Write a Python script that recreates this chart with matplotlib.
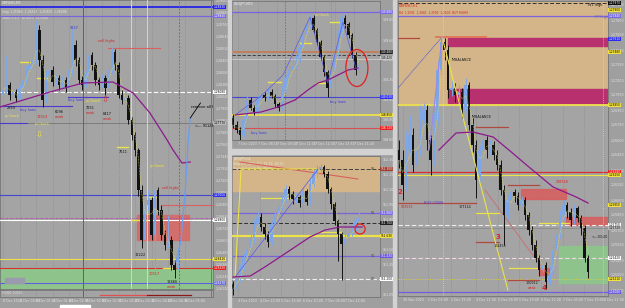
import numpy as np
import pandas as pd
import matplotlib
matplotlib.use("Agg")
import matplotlib.pyplot as plt
import matplotlib.transforms as mtransforms
from matplotlib.patches import Rectangle, Ellipse
from matplotlib.ticker import MultipleLocator, FuncFormatter

##########
# Daten
##########

# linkes Panel GBPUSD M5, Preise in Punkten (1 Punkt = 0.0001)
L_OPEN0 = 12805
L_CLOSE = [12810, 12815, 12805, 12808, 12802, 12812, 12820, 12830, 12835, 12840,
           12870, 12840, 12800, 12825, 12830, 12818, 12822, 12815, 12820, 12812,
           12830, 12855, 12840, 12820, 12815, 12825, 12845, 12835, 12820, 12815,
           12822, 12812, 12830, 12848, 12835, 12805, 12800, 12802, 12780, 12765,
           12750, 12710, 12660, 12695, 12700, 12665, 12710, 12690, 12665, 12655,
           12660, 12635, 12630, 12645]
L_HIGH = [12814, 12845, 12818, 12812, 12811, 12816, 12825, 12834, 12840, 12850,
          12880, 12875, 12845, 12830, 12835, 12834, 12826, 12825, 12824, 12823,
          12834, 12872, 12860, 12843, 12824, 12830, 12852, 12848, 12838, 12823,
          12826, 12825, 12834, 12853, 12851, 12838, 12810, 12806, 12805, 12783,
          12768, 12752, 12715, 12700, 12710, 12703, 12715, 12713, 12695, 12670,
          12685, 12664, 12640, 12650]
L_LOW = [12800, 12807, 12800, 12802, 12798, 12800, 12808, 12816, 12825, 12832,
         12836, 12834, 12793, 12797, 12820, 12814, 12815, 12810, 12812, 12808,
         12808, 12825, 12834, 12816, 12810, 12812, 12822, 12830, 12815, 12810,
         12812, 12805, 12808, 12826, 12830, 12802, 12796, 12797, 12776, 12760,
         12744, 12704, 12652, 12654, 12690, 12660, 12630, 12685, 12660, 12650,
         12652, 12630, 12622, 12638]
L_MA_X = [-0.9, 14.2, 24.2, 33.3, 39.4, 44.5, 49.7, 51.5, 54.2, 56.7]
L_MA_Y = [12793, 12808, 12817, 12818, 12807, 12787, 12760, 12750, 12737, 12738]
L_BLUE_X = [52.4, 53.9, 55.2, 56.1, 56.7]
L_BLUE_Y = [12638, 12660, 12710, 12760, 12782]
L_LEVELS = [12893, 12884, 12808, 12777, 12705, 12682, 12680, 12641, 12632, 12617]
L_VLINES = [24.2, 38.8, 43.6, 53.3, 63.0]
L_SEG_RED = [(31.8, 47.6, 12852), (48.2, 63.6, 12695)]
L_SEG_PUR = [(-1, 20.9, 12794), (19.7, 31.8, 12803)]
L_SEG_YEL = [(5.2, 9.1, 12838), (10.3, 13.3, 12822), (34.5, 37.9, 12753),
             (39.1, 43.6, 12680), (43.6, 47.0, 12703), (48.5, 52.1, 12632)]
L_REDZONE = (40.6, 56.4, 12660, 12685)
L_GREENZONE = (12611, 12632)
L_NOTES_BLACK = [(1.2, 12792, "2969"), (15.8, 12788, "6096"), (25.2, 12792, "7251"),
                 (30.3, 12786, "6417"), (35.2, 12748, "7511"), (40.0, 12645, "12222"),
                 (49.4, 12618, "13466")]
L_NOTES_RED = [(10.3, 12783, "12513"), (15.8, 12783, "weak"), (25.2, 12787, "weak"),
               (30.3, 12781, "weak"), (28.8, 12859, "sell highs"), (48.2, 12712, "sell highs"),
               (44.0, 12626, "10517"), (49.7, 12613, "weak")]
L_NOTES_YEL = [(0.6, 12784, "pullback"), (9.7, 12776, "pullback"),
               (25.0, 12799, "pullback"), (44.5, 12734, "pullback")]
L_NOTES_BLUE = [(5.2, 12790, "buy lows"), (19.7, 12800, "buy lows"), (20.3, 12872, "9257")]
L_TIME_POS = [0, 5, 10, 15, 20, 25, 30, 35, 40, 45, 50, 55]
L_TIME_LAB = ["8 Dec 2023", "8 Dec 00:50", "8 Dec 01:15", "8 Dec 01:40", "8 Dec 02:05",
              "8 Dec 02:30", "8 Dec 02:55", "8 Dec 03:20", "8 Dec 03:45", "8 Dec 04:10",
              "8 Dec 04:35", "8 Dec 05:00"]

# Mitte oben USDJPY M15
M1_OPEN0 = 148.82
M1_CLOSE = [148.75, 148.70, 148.65, 148.80, 149.00, 148.92, 148.88, 149.00, 149.05, 149.02,
            149.08, 149.04, 148.96, 148.92, 149.10, 149.22, 149.30, 149.34, 149.40, 149.52,
            149.65, 149.75, 149.82, 149.70, 149.58, 149.43, 149.28, 149.12, 149.28, 149.45,
            149.65, 149.82, 149.76, 149.65, 149.45, 149.30, 149.35]
M1_HIGH = [148.86, 148.79, 148.73, 148.84, 149.05, 149.03, 148.95, 149.04, 149.10, 149.08,
           149.12, 149.11, 149.06, 148.98, 149.14, 149.26, 149.34, 149.42, 149.45, 149.56,
           149.68, 149.80, 149.86, 149.85, 149.72, 149.60, 149.45, 149.30, 149.32, 149.50,
           149.70, 149.87, 149.85, 149.78, 149.67, 149.48, 149.40]
M1_LOW = [148.72, 148.67, 148.60, 148.63, 148.78, 148.90, 148.85, 148.86, 148.98, 148.99,
          149.00, 149.02, 148.93, 148.89, 148.90, 149.08, 149.20, 149.28, 149.32, 149.38,
          149.50, 149.62, 149.72, 149.67, 149.55, 149.40, 149.24, 149.03, 149.10, 149.26,
          149.43, 149.63, 149.72, 149.62, 149.42, 149.25, 149.28]
M1_MA_X = [0.6, 8.0, 12.9, 17.7, 21.4, 24.3, 27.1, 30.0, 32.9, 35.7]
M1_MA_Y = [148.85, 148.88, 148.93, 149.00, 149.10, 149.17, 149.20, 149.25, 149.30, 149.32]
M1_ZIG_X = [0.6, 7.7, 14.3, 22.0, 27.1, 31.4, 35.1]
M1_ZIG_Y = [148.85, 149.03, 149.25, 149.83, 149.17, 149.78, 149.32]
M1_LEVELS = [149.88, 149.48, 149.45, 149.41, 149.03, 148.85, 148.72]
M1_SEG_YEL = [(27.7, 30.6, 149.78), (19.1, 22.3, 149.57), (10.0, 13.7, 149.18), (23.7, 27.1, 149.17)]
M1_VLINES = [14.9, 28.0]
M1_CIRCLE = (35.4, 149.32)
M1_TIME_POS = [1.5, 7, 12.5, 18, 23.5, 29, 34.5]
M1_TIME_LAB = ["7 Dec 2023", "7 Dec 08:15", "7 Dec 09:40", "7 Dec 11:05", "7 Dec 12:30",
               "7 Dec 13:55", "7 Dec 15:20"]

# Mitte unten USDJPY H1
M2_OPEN0 = 151.15
M2_CLOSE = [151.10, 151.20, 151.30, 151.42, 151.50, 151.60, 151.75, 151.82, 151.72, 151.65,
            151.57, 151.75, 151.85, 151.92, 152.00, 152.10, 152.05, 152.00, 152.02, 151.96,
            152.08, 151.97, 152.15, 152.25, 152.30, 152.32, 152.25, 152.10, 151.95, 151.78,
            151.65, 151.55, 151.62, 151.66, 151.70, 151.78, 151.82]
M2_HIGH = [151.18, 151.24, 151.35, 151.46, 151.54, 151.64, 151.80, 151.88, 151.86, 151.76,
           151.68, 151.79, 151.90, 151.96, 152.04, 152.14, 152.13, 152.08, 152.06, 152.04,
           152.12, 152.10, 152.20, 152.29, 152.34, 152.35, 152.34, 152.28, 152.12, 151.97,
           151.80, 151.67, 151.66, 151.69, 151.74, 151.81, 151.87]
M2_LOW = [151.04, 151.08, 151.17, 151.28, 151.38, 151.46, 151.56, 151.72, 151.68, 151.60,
          151.52, 151.54, 151.72, 151.82, 151.89, 151.97, 152.00, 151.95, 151.96, 151.92,
          151.93, 151.94, 151.94, 152.12, 152.22, 152.27, 152.22, 152.06, 151.90, 151.74,
          151.38, 151.19, 151.52, 151.60, 151.63, 151.68, 151.76]
M2_MA_X = [0, 4.9, 9.1, 13.4, 17.7, 22.0, 26.3, 30.6, 33.4, 36.9]
M2_MA_Y = [151.22, 151.23, 151.32, 151.42, 151.52, 151.62, 151.69, 151.72, 151.72, 151.72]
M2_LEVELS = [152.30, 151.86, 151.76, 151.63, 151.43, 151.20]
M2_LEVEL_NAMES = ["R2", "R1", "", "", "S1", "S2"]
M2_ZONE = (152.08, 152.42)
M2_REDLINE = ([2.0, 35.7], [152.37, 152.20])
M2_YEL_LINE = ([0.6, 2.3, 24.3], [151.23, 152.30, 152.30])
M2_BLUE_LINE = ([0.6, 24.3], [151.22, 152.30])
M2_SEG_YEL = [(8.0, 16.3, 152.01), (24.3, 30.9, 151.67)]
M2_CIRCLE = (36.3, 151.70)
M2_TIME_POS = [1.4, 7.7, 13.7, 20.0, 26.3, 32.0]
M2_TIME_LAB = ["4 Dec 2023", "4 Dec 22:00", "5 Dec 16:00", "6 Dec 10:00", "7 Dec 04:00", "7 Dec 22:00"]

# rechts GBPUSD H1
R_OPEN0 = 12650
R_CLOSE = [12640, 12615, 12650, 12665, 12635, 12650, 12680, 12690, 12660, 12640,
           12680, 12730, 12758, 12750, 12710, 12712, 12705, 12708, 12690, 12715,
           12675, 12655, 12620, 12650, 12660, 12650, 12655, 12645, 12635, 12610,
           12585, 12600, 12608, 12604, 12595, 12600, 12585, 12570, 12555, 12542,
           12530, 12535, 12518, 12525, 12550, 12565, 12585, 12595, 12588, 12580,
           12592, 12582, 12572, 12542, 12528]
R_HIGH = [12660, 12650, 12670, 12685, 12672, 12660, 12695, 12697, 12695, 12665,
          12688, 12740, 12764, 12762, 12755, 12720, 12717, 12715, 12712, 12722,
          12718, 12682, 12660, 12655, 12672, 12664, 12660, 12659, 12650, 12640,
          12615, 12605, 12612, 12611, 12608, 12604, 12603, 12588, 12574, 12560,
          12545, 12540, 12538, 12534, 12555, 12570, 12590, 12600, 12598, 12592,
          12596, 12594, 12585, 12575, 12545]
R_LOW = [12632, 12600, 12610, 12645, 12628, 12630, 12645, 12675, 12650, 12625,
         12635, 12675, 12725, 12740, 12702, 12704, 12698, 12700, 12682, 12687,
         12670, 12648, 12602, 12615, 12645, 12642, 12645, 12640, 12630, 12605,
         12555, 12580, 12600, 12598, 12590, 12594, 12580, 12565, 12550, 12538,
         12524, 12528, 12511, 12515, 12522, 12545, 12562, 12580, 12582, 12574,
         12576, 12578, 12565, 12538, 12522]
R_MA_X = [11.4, 16.3, 21.1, 26.9, 31.4, 37.1, 44.0, 50.6, 54.0]
R_MA_Y = [12650, 12667, 12668, 12663, 12650, 12633, 12613, 12603, 12597]
R_LEVELS = [12797, 12784, 12695, 12628, 12625, 12575, 12572, 12542, 12521, 12508]
R_TANZONE = (12695, 12798)
R_MAGENTA = [(14, 12754, 12762), (14, 12697, 12711)]
R_GREENZONE = (45.7, 12517, 12554)
R_REDZONES = [(34.9, 47.7, 12601, 12611), (47.7, 61, 12575, 12583), (40.0, 42.9, 12525, 12532)]
R_SEG_BROWN = [(-1, 5.7, 12762), (-1, 22.0, 12597), (31.1, 40.0, 12615), (22.0, 28.6, 12558),
               (31.1, 40.0, 12520), (22.0, 31.1, 12673)]
R_SEG_ORANGE = [(10.6, 24.9, 12763)]
R_SEG_YEL = [(22.0, 28.6, 12587), (31.4, 40.0, 12532), (40.0, 48.6, 12577)]
R_YEL_DIAG = ([12.3, 31.1], [12763, 12510])
R_BLUE_DIAG = ([-0.3, 12.3], [12712, 12763])
R_RED_DIAG = ([24.6, 40.3], [12610, 12535])
R_LAV_LINE = ([8.6, 12.3], [12650, 12763])
R_NOTES_RED = [(0.6, 12593, "103535"), (36.9, 12512, "weak"), (44.9, 12618, "238728")]
R_NOTES_BLACK = [(14.9, 12740, "IMBALANCE"), (20.6, 12683, "IMBALANCE"), (17.1, 12593, "107114"),
                 (27.1, 12554, "102455"), (36.3, 12517, "100912"), (54.9, 12563, "<---03:20"),
                 (54.0, 12795, "W1 High")]
R_WAVES = [(-0.3, 12608, "2"), (27.7, 12563, "3"), (40.6, 12512, "4")]
R_TIME_POS = [1.1, 8.3, 14.9, 21.9, 28.3, 34.3, 40.6, 46.9, 52.9, 58.6]
R_TIME_LAB = ["30 Nov 2023", "1 Dec 03:00", "1 Dec 19:00", "4 Dec 11:00", "5 Dec 03:00",
              "5 Dec 19:00", "6 Dec 11:00", "7 Dec 03:00", "7 Dec 19:00", "8 Dec 11:00"]

##########
# Zeichnen
##########
W, H = 625, 308
BG = '#a4a4a4'
BULL = '#7ea6e6'
BEAR = '#121212'
TXT = '#e4e4e4'
YEL = '#ece24a'
RED = '#d83030'
PUR = '#7a62dc'
MAC = '#8c1a8c'
TAN = '#d4b489'

fig = plt.figure(figsize=(W / 100, H / 100), dpi=100)
fig.patch.set_facecolor('#9f9f9f')


def px_axes(x0, y0, x1, y1):
    ax = fig.add_axes([x0 / W, 1 - y1 / H, (x1 - x0) / W, (y1 - y0) / H])
    ax.set_facecolor(BG)
    for s in ax.spines.values():
        s.set_color('#6c6c6c')
        s.set_linewidth(0.5)
    return ax


def candles(ax, open0, close, high, low, minbody):
    close = np.asarray(close, float)
    opn = np.r_[open0, close[:-1]]
    x = np.arange(len(close))
    cols = np.where(close >= opn, BULL, BEAR)
    ax.vlines(x, low, high, colors=cols, lw=0.7, zorder=5)
    body = np.maximum(np.abs(close - opn), minbody)
    ax.bar(x, body, bottom=np.minimum(opn, close), width=0.74, color=cols, lw=0, zorder=6)
    fast = pd.Series(close).rolling(3, min_periods=1).mean()
    ax.plot(x, fast, color=YEL, lw=0.5, ls=(0, (1, 1.2)), zorder=7)


def price_axis(ax, step, fmt):
    ax.yaxis.tick_right()
    ax.yaxis.set_major_locator(MultipleLocator(step))
    ax.yaxis.set_major_formatter(FuncFormatter(fmt))
    ax.tick_params(axis='y', labelsize=2.3, colors=TXT, length=1, width=0.3, pad=0.8)


def time_axis(ax, pos, labels):
    ax.set_xticks(pos)
    ax.set_xticklabels(labels, ha='left')
    ax.tick_params(axis='x', labelsize=2.3, colors=TXT, length=0, pad=1.2)
    ax.grid(axis='x', color='#8a8a8a', ls=(0, (1, 1.5)), lw=0.5, zorder=1)


def tag(ax, y, fmt, fc, tc='black'):
    tr = mtransforms.blended_transform_factory(ax.transAxes, ax.transData)
    ax.text(1.004, y, fmt(y, None), transform=tr, fontsize=2.1, color=tc, va='center', ha='left',
            bbox=dict(boxstyle='square,pad=0.15', fc=fc, ec='none'), clip_on=False, zorder=20)


def hseg(ax, segs, color, lw=0.8, ls='-'):
    for a, b, y in segs:
        ax.plot([a, b], [y, y], color=color, lw=lw, ls=ls, zorder=4)


def notes(ax, items, color, size=2.5, weight='normal'):
    for x, y, s in items:
        ax.text(x, y, s, fontsize=size, color=color, va='center', ha='left',
                fontweight=weight, clip_on=True, zorder=12)


pt5 = lambda v, p: f"{v / 10000:.5f}"
jp3 = lambda v, p: f"{v:.3f}"

# ---- linkes Panel
ax = px_axes(0, 0, 213, 289)
ax.set_xlim(-0.91, 63.6)
ax.set_ylim(12611, 12900)
price_axis(ax, 12, pt5)
ax.grid(axis='x', color='#8a8a8a', ls=(0, (1, 1.5)), lw=0.5, zorder=1)
ax.set_xticks(L_TIME_POS)
ax.tick_params(axis='x', length=0, labelbottom=False)

ax.axhspan(*L_GREENZONE, color='#8ec48c', zorder=2)
a, b, y0, y1 = L_REDZONE
ax.add_patch(Rectangle((a, y0), b - a, y1 - y0, color='#d66a66', alpha=0.9, zorder=3))
lv_cols = ['#2424e8', PUR, 'white', '#767676', '#4545d0', '#b050b0', 'white', YEL, RED, '#6060d8']
lv_ls = ['-', '-', (0, (4, 2)), '-', '-', (0, (3, 1, 1, 1)), '-', '-', '-', '-']
lv_lw = [1.3, 0.9, 0.8, 0.6, 0.8, 0.6, 0.8, 0.8, 0.8, 0.8]
for y, c, s, w in zip(L_LEVELS, lv_cols, lv_ls, lv_lw):
    ax.axhline(y, color=c, ls=s, lw=w, zorder=4)
vcols = [RED, YEL, YEL, '#a050b0', '#3aa03a']
vls = ['-', '-', '-', (0, (2, 1.5)), '-']
for x, c, s in zip(L_VLINES, vcols, vls):
    ax.axvline(x, color=c, ls=s, lw=0.7, zorder=4)
hseg(ax, L_SEG_RED, '#d86060')
hseg(ax, L_SEG_PUR, '#4a3ad0')
hseg(ax, L_SEG_YEL, YEL, lw=1.0)
ax.plot([-1, 7.3], [12777, 12777], color='#4a3ad0', lw=0.8, zorder=4)
candles(ax, L_OPEN0, L_CLOSE, L_HIGH, L_LOW, 1)
ax.plot(L_MA_X, L_MA_Y, color=MAC, lw=0.9, zorder=8)
ax.plot(L_BLUE_X, L_BLUE_Y, color='#6a9cf0', lw=0.9, zorder=8)
ax.plot([56.7, 59.8], [12782, 12797], color='black', lw=0.6, zorder=9)
notes(ax, L_NOTES_BLACK, '#101010')
notes(ax, L_NOTES_RED, '#d82020')
notes(ax, L_NOTES_YEL, YEL)
notes(ax, L_NOTES_BLUE, '#3a3ad8')
ax.text(56.8, 12793, "remove all here", fontsize=2.7, color='black', va='center', clip_on=True, zorder=12)
ax.text(58.2, 12774, "<--- 91123", fontsize=2.4, color='black', va='center', clip_on=True, zorder=12)
ax.text(11.0, 12765, "\u21e9", fontsize=6, color=YEL, ha='center', va='center', zorder=12)
ax.text(31.0, 12800, "\u21e9", fontsize=6, color=RED, ha='center', va='center', zorder=12)
ax.add_patch(Rectangle((0.5, 12617), 6, 5, color='#9a9aae', zorder=9))
ax.text(0.01, 0.995, "GBPUSD,M5", transform=ax.transAxes, fontsize=2.3, color='#f0f0f0', va='top')
ax.text(0.01, 0.965, "Gmp 1.25965  1.26513  1.25920  1.26098", transform=ax.transAxes,
        fontsize=2.2, color='#e8e8e8', va='top')
ax.text(0.01, 0.945, "Stoch 5,3,3  18.4450  24.0340", transform=ax.transAxes,
        fontsize=2.2, color='#e8e8e8', va='top')
for y, c, tc in zip([12893, 12884, 12808, 12777, 12705, 12680, 12641, 12632, 12617],
                    ['#2424f0', '#7a6ae6', 'white', '#b8b8b8', '#3030f0', 'white', '#f0e040',
                     '#e82020', '#7070e0'],
                    ['white', 'white', 'black', 'black', 'white', 'black', 'black', 'white', 'white']):
    tag(ax, y, pt5, c, tc)

# Indikator-Leiste unten links
axi = px_axes(0, 290, 213, 297)
axi.set_xlim(-0.91, 63.6)
axi.set_ylim(0, 1)
axi.set_yticks([])
axi.plot([29.5, 43.6], [0.35, 0.35], color='#e05050', lw=0.9)
axi.plot([43.6, 57.0], [0.35, 0.35], color='#8a1818', lw=0.9)
axi.text(0.01, 0.6, "0.0000  0.0000", transform=axi.transAxes, fontsize=2, color='#e0e0e0', va='center')
axi.axvline(L_VLINES[0], color=RED, lw=0.7)
axi.axvline(L_VLINES[4], color='#3aa03a', lw=0.7)
time_axis(axi, L_TIME_POS, L_TIME_LAB)

# ---- Mitte oben
ax = px_axes(232, 1, 380, 140)
ax.set_xlim(-0.29, 42.0)
ax.set_ylim(148.60, 149.99)
price_axis(ax, 0.2, jp3)
time_axis(ax, M1_TIME_POS, M1_TIME_LAB)
lv_cols = [PUR, '#c0805c', '#303030', '#cccccc', '#4545d8', YEL, '#d85050']
lv_ls = ['-', '-', (0, (4, 2)), '-', '-', '-', '-']
lv_lw = [0.9, 1.4, 0.6, 0.6, 0.8, 1.3, 0.8]
for y, c, s, w in zip(M1_LEVELS, lv_cols, lv_ls, lv_lw):
    ax.axhline(y, color=c, ls=s, lw=w, zorder=4)
for x, c in zip(M1_VLINES, ['#a050b0', '#c070b0']):
    ax.axvline(x, color=c, ls=(0, (2, 1.5)), lw=0.6, zorder=4)
hseg(ax, M1_SEG_YEL, YEL, lw=1.0)
candles(ax, M1_OPEN0, M1_CLOSE, M1_HIGH, M1_LOW, 0.01)
ax.plot(M1_ZIG_X, M1_ZIG_Y, color='#5a5ae6', lw=0.5, zorder=7)
ax.plot(M1_MA_X, M1_MA_Y, color=MAC, lw=0.9, zorder=8)
ax.add_patch(Ellipse(M1_CIRCLE, 6.3, 0.37, fill=False, ec='#e02020', lw=0.9, zorder=10))
notes(ax, [(23.4, 149.85, "pullback")], YEL)
notes(ax, [(27.7, 148.98, "buy lows"), (5.1, 148.67, "buy lows")], '#3a3ad8')
ax.text(0.01, 0.995, "USDJPY,M15", transform=ax.transAxes, fontsize=2.3, color='#f0f0f0', va='top')
for y, c, tc in zip([149.88, 149.48, 149.42, 149.03, 148.85, 148.72],
                    ['#7a6ae6', '#202020', '#c8c8c8', '#3030f0', '#f0e040', '#e82020'],
                    ['white', 'white', 'black', 'white', 'black', 'white']):
    tag(ax, y, jp3, c, tc)

# ---- Mitte unten
ax = px_axes(232, 156, 380, 297)
ax.set_xlim(-0.29, 42.0)
ax.set_ylim(151.02, 152.43)
price_axis(ax, 0.15, jp3)
time_axis(ax, M2_TIME_POS, M2_TIME_LAB)
ax.axhspan(*M2_ZONE, color=TAN, zorder=2)
lv_cols = ['#404040', PUR, '#303030', YEL, PUR, '#f0f0f0']
lv_ls = [(0, (4, 2)), '-', (0, (4, 2)), '-', '-', (0, (4, 2))]
lv_lw = [0.7, 0.9, 0.7, 1.6, 0.9, 0.8]
for y, c, s, w, n in zip(M2_LEVELS, lv_cols, lv_ls, lv_lw, M2_LEVEL_NAMES):
    ax.axhline(y, color=c, ls=s, lw=w, zorder=4)
    if n:
        ax.text(39.4, y, n, fontsize=2.3, color='#4a4a4a', va='center', zorder=12)
ax.plot(*M2_REDLINE, color='#d86060', lw=0.8, zorder=4)
ax.plot(*M2_YEL_LINE, color=YEL, lw=0.8, zorder=4)
hseg(ax, M2_SEG_YEL, YEL, lw=0.9)
candles(ax, M2_OPEN0, M2_CLOSE, M2_HIGH, M2_LOW, 0.01)
ax.plot(*M2_BLUE_LINE, color='#5a5ae6', lw=0.5, zorder=7)
ax.plot(M2_MA_X, M2_MA_Y, color=MAC, lw=0.9, zorder=8)
ax.add_patch(Ellipse(M2_CIRCLE, 2.9, 0.10, fill=False, ec='#e02020', lw=0.9, zorder=10))
ax.text(0.01, 0.995, "USDJPY,H1", transform=ax.transAxes, fontsize=2.3, color='#f0f0f0', va='top')
ax.text(0.01, 0.955, "Gmp 5.0  10.0  0.1  51.55  40.20", transform=ax.transAxes, fontsize=2.2,
        color='#e8e8e8', va='top')
ax.text(0.01, 0.925, "Stoch 5,3,3  61.95  48.60", transform=ax.transAxes, fontsize=2.2,
        color='#e8e8e8', va='top')
for y, c, tc in zip([152.30, 151.86, 151.76, 151.63, 151.43, 151.20],
                    ['#a03a2a', '#7a6ae6', '#202020', '#f0e040', '#6a5ad8', 'white'],
                    ['white', 'white', 'white', 'black', 'white', 'black']):
    tag(ax, y, jp3, c, tc)

# ---- rechtes Panel
ax = px_axes(398, 1, 608, 296)
ax.set_xlim(-0.29, 59.7)
ax.set_ylim(12504, 12799)
price_axis(ax, 15, pt5)
time_axis(ax, R_TIME_POS, R_TIME_LAB)
ax.axhspan(*R_TANZONE, color=TAN, zorder=2)
for a, y0, y1 in R_MAGENTA:
    ax.add_patch(Rectangle((a, y0), 61 - a, y1 - y0, color='#b8306e', zorder=3))
a, y0, y1 = R_GREENZONE
ax.add_patch(Rectangle((a, y0), 61 - a, y1 - y0, color='#8ec48c', zorder=3))
for a, b, y0, y1 in R_REDZONES:
    ax.add_patch(Rectangle((a, y0), b - a, y1 - y0, color='#d66060', alpha=0.9, zorder=3))
lv_cols = ['#303030', PUR, YEL, RED, YEL, '#ececec', '#8a8a8a', '#f0d8e8', '#d8d040', '#7060d8']
lv_ls = [(0, (4, 2)), '-', '-', '-', '-', (0, (4, 2)), '-', (0, (4, 2)), (0, (1, 1.5)), '-']
lv_lw = [0.7, 0.9, 1.2, 0.9, 0.8, 0.8, 0.6, 0.8, 0.7, 0.9]
for y, c, s, w in zip(R_LEVELS, lv_cols, lv_ls, lv_lw):
    ax.axhline(y, color=c, ls=s, lw=w, zorder=4)
ax.axvline(12.6, color=YEL, ls=(0, (1, 1.5)), lw=0.6, zorder=4)
ax.axvline(58.3, color=YEL, ls=(0, (1, 1.5)), lw=0.6, zorder=4)
hseg(ax, R_SEG_BROWN, '#b04a40', lw=0.9)
hseg(ax, R_SEG_ORANGE, '#e07a5a', lw=1.4)
hseg(ax, R_SEG_YEL, YEL, lw=0.9)
ax.plot(*R_RED_DIAG, color='#d86060', lw=0.5, zorder=4)
ax.plot(*R_BLUE_DIAG, color='#3050e8', lw=0.6, ls=(0, (1, 0.8)), zorder=4)
candles(ax, R_OPEN0, R_CLOSE, R_HIGH, R_LOW, 1)
ax.plot(*R_YEL_DIAG, color=YEL, lw=0.8, zorder=7)
ax.plot(*R_LAV_LINE, color='#9a8ae8', lw=0.8, zorder=7)
ax.plot(R_MA_X, R_MA_Y, color=MAC, lw=0.9, zorder=8)
notes(ax, R_NOTES_RED, '#d82020', size=2.3)
notes(ax, R_NOTES_BLACK, '#181818', size=2.4)
notes(ax, [(7.1, 12597, "BUY LOWS")], '#4a3ad8', size=2.6)
notes(ax, [(56.0, 12783, "ST High")], '#6a5ab8', size=2.4)
notes(ax, R_WAVES, '#e02020', size=5, weight='bold')
ax.text(0.005, 0.99, "GBPUSD,H1", transform=ax.transAxes, fontsize=2.3, color='#d82020', va='top')
ax.text(0.005, 0.965, "H4  1.2591  1.2661  1.2590  1.2633  BUY HIGHS", transform=ax.transAxes,
        fontsize=2.1, color='#d82020', va='top')
for y, c, tc in zip([12797, 12790, 12784, 12761, 12748, 12695, 12628, 12625, 12595, 12575, 12572,
                     12542, 12521, 12508],
                    ['#101010', '#f0e040', '#7a6ae6', '#2a2af0', '#f0e040', '#f0e040', '#e82020',
                     '#f0e040', '#f0e040', 'white', '#b8b8b8', 'white', '#f0e040', '#7060d8'],
                    ['white', 'black', 'white', 'white', 'black', 'black', 'white', 'black',
                     'black', 'black', 'black', 'black', 'black', 'white']):
    tag(ax, y, pt5, c, tc)

# Trennstreifen zwischen den Fenstern
for x0, y0, w, h in [(228, 0, 3, 308), (393, 0, 3, 308), (231, 149, 162, 5)]:
    fig.add_artist(Rectangle((x0 / W, 1 - (y0 + h) / H), w / W, h / H, transform=fig.transFigure,
                             color='#d2d2d2', zorder=30))
fig.add_artist(Rectangle((60 / W, 0), 30 / W, 3 / H, transform=fig.transFigure, color='white', zorder=30))

fig.savefig("out.png", dpi=100, facecolor=fig.get_facecolor())
